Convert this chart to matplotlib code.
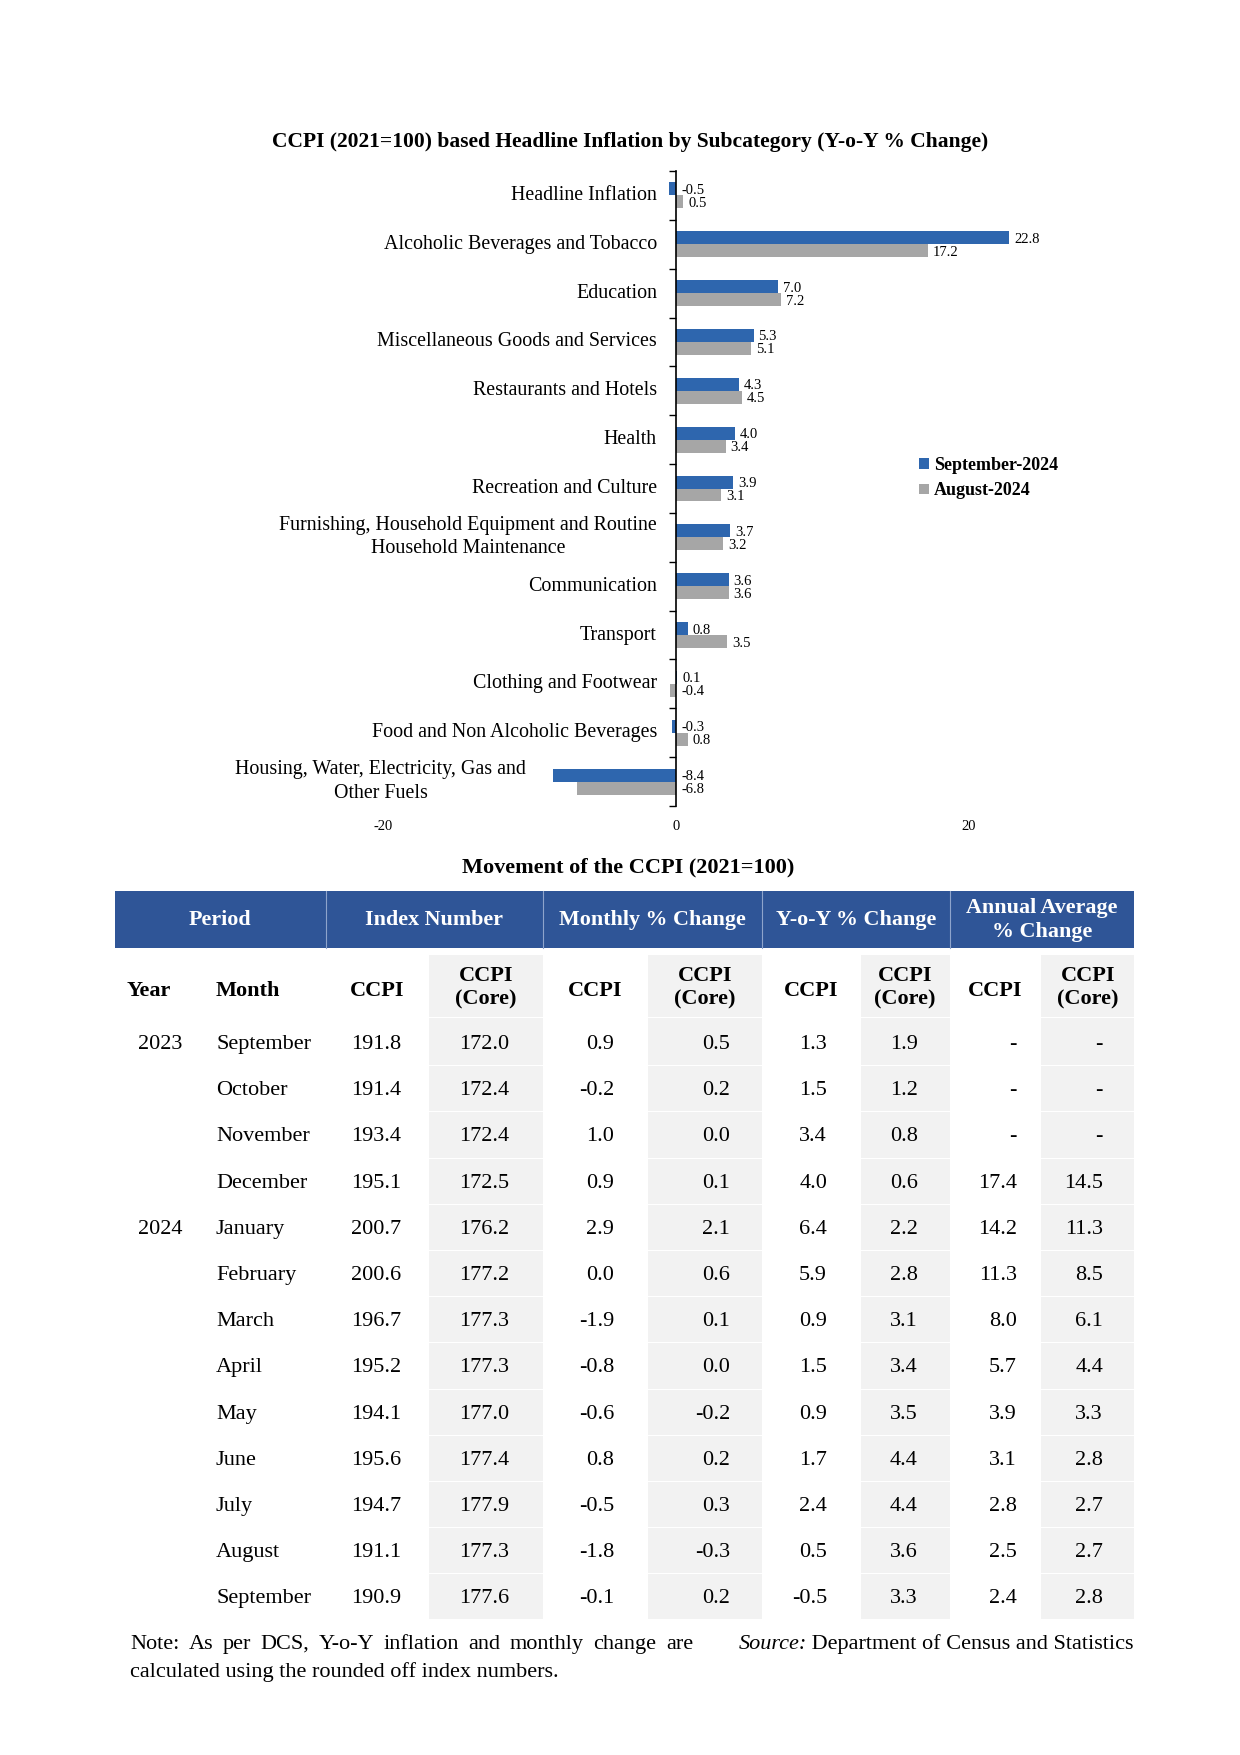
import matplotlib
matplotlib.use("Agg")
import matplotlib.pyplot as plt
import numpy as np
from matplotlib.patches import Rectangle

plt.rcParams['font.family'] = ['Liberation Serif', 'DejaVu Serif']
plt.rcParams['axes.unicode_minus'] = False

# ---- chart data ----
categories = [
    "Headline Inflation",
    "Alcoholic Beverages and Tobacco",
    "Education",
    "Miscellaneous Goods and Services",
    "Restaurants and Hotels",
    "Health",
    "Recreation and Culture",
    "Furnishing, Household Equipment and Routine\nHousehold Maintenance",
    "Communication",
    "Transport",
    "Clothing and Footwear",
    "Food and Non Alcoholic Beverages",
    "Housing, Water, Electricity, Gas and\nOther Fuels",
]
sep_2024 = [-0.5, 22.8, 7.0, 5.3, 4.3, 4.0, 3.9, 3.7, 3.6, 0.8, 0.1, -0.3, -8.4]
aug_2024 = [0.5, 17.2, 7.2, 5.1, 4.5, 3.4, 3.1, 3.2, 3.6, 3.5, -0.4, 0.8, -6.8]
series_names = ["September-2024", "August-2024"]

# ---- table data ----
years = ["2023", "", "", "", "2024", "", "", "", "", "", "", "", ""]
months = ["September", "October", "November", "December", "January", "February",
          "March", "April", "May", "June", "July", "August", "September"]
ccpi_index = ["191.8", "191.4", "193.4", "195.1", "200.7", "200.6", "196.7",
              "195.2", "194.1", "195.6", "194.7", "191.1", "190.9"]
core_index = ["172.0", "172.4", "172.4", "172.5", "176.2", "177.2", "177.3",
              "177.3", "177.0", "177.4", "177.9", "177.3", "177.6"]
ccpi_mom = ["0.9", "-0.2", "1.0", "0.9", "2.9", "0.0", "-1.9", "-0.8", "-0.6",
            "0.8", "-0.5", "-1.8", "-0.1"]
core_mom = ["0.5", "0.2", "0.0", "0.1", "2.1", "0.6", "0.1", "0.0", "-0.2",
            "0.2", "0.3", "-0.3", "0.2"]
ccpi_yoy = ["1.3", "1.5", "3.4", "4.0", "6.4", "5.9", "0.9", "1.5", "0.9",
            "1.7", "2.4", "0.5", "-0.5"]
core_yoy = ["1.9", "1.2", "0.8", "0.6", "2.2", "2.8", "3.1", "3.4", "3.5",
            "4.4", "4.4", "3.6", "3.3"]
ccpi_avg = ["-", "-", "-", "17.4", "14.2", "11.3", "8.0", "5.7", "3.9",
            "3.1", "2.8", "2.5", "2.4"]
core_avg = ["-", "-", "-", "14.5", "11.3", "8.5", "6.1", "4.4", "3.3",
            "2.8", "2.7", "2.7", "2.8"]
group_headers = ["Period", "Index Number", "Monthly % Change", "Y-o-Y % Change",
                 "Annual Average\n% Change"]
note_lines = ["Note: As per DCS, Y-o-Y inflation and monthly change are",
              "calculated using the rounded off index numbers."]

BLUE = "#2E66AE"
GREY = "#A6A6A6"
HEAD = "#2F5597"
LIGHT = "#F2F2F2"

W, H = 1240, 1755
fig = plt.figure(figsize=(W / 100, H / 100), dpi=100)
renderer = fig.canvas.get_renderer()

# ---------------- bar chart ----------------
x_lo, x_hi = -20, 30
px_per_unit = (969 - 384) / 40.0
ax_left = 676 + x_lo * px_per_unit
ax_right = 676 + x_hi * px_per_unit
ax_top, ax_bot = 171, 806
ax = fig.add_axes([ax_left / W, 1 - ax_bot / H, (ax_right - ax_left) / W, (ax_bot - ax_top) / H])

n = len(categories)
y = np.arange(n)
bh = 0.265
ax.barh(y - bh / 2, sep_2024, height=bh, color=BLUE, label=series_names[0])
ax.barh(y + bh / 2, aug_2024, height=bh, color=GREY, label=series_names[1])

for i in range(n):
    for v, off in ((sep_2024[i], -bh / 2), (aug_2024[i], bh / 2)):
        ax.annotate(f"{v:.1f}", xy=(max(v, 0), y[i] + off), xytext=(5, 0),
                    textcoords="offset pixels", ha="left", va="center_baseline", fontsize=10.5)

ax.set_xlim(x_lo, x_hi)
ax.set_ylim(n - 0.5, -0.5)
ax.set_xticks([-20, 0, 20])
ax.tick_params(axis="x", length=0, labelsize=10.5, pad=10)
ax.set_yticks([])
ax.set_yticks(np.arange(-0.5, n, 1), minor=True)
ax.tick_params(axis="y", which="minor", length=5, width=1, direction="out")
for s in ("top", "right", "bottom"):
    ax.spines[s].set_visible(False)
ax.spines["left"].set_position(("data", 0))
ax.spines["left"].set_linewidth(1.2)

for i, c in enumerate(categories):
    dx = -150 if c.startswith("Housing") else -19
    ax.annotate(c, xy=(0, y[i]), xytext=(dx, 0), textcoords="offset pixels",
                ha="right", va="center", multialignment="center", fontsize=14.4,
                linespacing=1.3)

ax.legend(loc="upper left", bbox_to_anchor=(903 / W, 1 - 441 / H), bbox_transform=fig.transFigure,
          frameon=False, handlelength=0.55, handleheight=0.55, handletextpad=0.25,
          labelspacing=0.45, prop={"weight": "bold", "size": 13})

fig.text(630 / W, 1 - 142 / H,
         "CCPI (2021=100) based Headline Inflation by Subcategory (Y-o-Y % Change)",
         ha="center", va="center", fontsize=15.5, fontweight="bold")

# ---------------- table ----------------
tab = fig.add_axes([0, 0, 1, 1])
tab.set_xlim(0, W)
tab.set_ylim(H, 0)
tab.axis("off")

tab.text(628, 867, "Movement of the CCPI (2021=100)", ha="center", va="center",
         fontsize=16, fontweight="bold")

# header band
tab.add_patch(Rectangle((115, 891), 1134 - 115, 57, color=HEAD, lw=0))
for xv in (326, 543, 762, 950):
    tab.plot([xv, xv], [891, 948], color="#8EA4CC", lw=0.8)
head_x = [220, 434, 652, 856, 1042]
for hx, ht in zip(head_x, group_headers):
    tab.text(hx, 920, ht, ha="center", va="center", color="white", fontsize=15.8,
             fontweight="bold", linespacing=1.25)

# grey column backgrounds
row_y = 1042 + 46.2 * np.arange(len(months))
top_g, bot_g = 955, 1619
for x0, x1 in ((429, 543), (648, 762), (861, 950), (1041, 1134)):
    tab.add_patch(Rectangle((x0, top_g), x1 - x0, bot_g - top_g, color=LIGHT, lw=0))
    for yb in np.r_[1017, row_y[:-1] + 23.1]:
        tab.plot([x0, x1], [yb, yb], color="white", lw=0.8)

# sub header
sub_y = 988
tab.text(149, sub_y, "Year", ha="center", va="center_baseline", fontsize=16, fontweight="bold")
tab.text(216, sub_y, "Month", ha="left", va="center_baseline", fontsize=16, fontweight="bold")
sub_x = [377, 486, 595, 705, 811, 905, 995, 1088]
for k, sx in enumerate(sub_x):
    lab = "CCPI" if k % 2 == 0 else "CCPI\n(Core)"
    tab.text(sx, sub_y, lab, ha="center", va="center" if "\n" in lab else "center_baseline",
             fontsize=16, fontweight="bold", linespacing=1.25)

# body
cols = [ccpi_index, core_index, ccpi_mom, core_mom, ccpi_yoy, core_yoy, ccpi_avg, core_avg]
right_x = [401, 509, 614, 730, 827, 918, 1017, 1103]
for r in range(len(months)):
    yy = row_y[r]
    if years[r]:
        tab.text(160, yy, years[r], ha="center", va="center_baseline", fontsize=16)
    tab.text(216, yy, months[r], ha="left", va="center_baseline", fontsize=16)
    for col, rx in zip(cols, right_x):
        tab.text(rx, yy, col[r], ha="right", va="center_baseline", fontsize=16)

# notes: first line justified between x=130 and x=693
words = note_lines[0].split()
widths = []
for w_ in words:
    t = tab.text(0, 0, w_, fontsize=16)
    widths.append(t.get_window_extent(renderer=renderer).width)
    t.remove()
gap = (693 - 130 - sum(widths)) / (len(words) - 1)
xc = 130
for w_, wd in zip(words, widths):
    tab.text(xc, 1642, w_, ha="left", va="center_baseline", fontsize=16)
    xc += wd + gap
tab.text(130, 1670, note_lines[1], ha="left", va="center_baseline", fontsize=16)

src = tab.text(1134, 1642, " Department of Census and Statistics", ha="right",
               va="center_baseline", fontsize=16)
bb = src.get_window_extent(renderer=renderer)
tab.text(bb.x0, 1642, "Source:", ha="right", va="center_baseline", fontsize=16, style="italic")

fig.savefig("out.png", dpi=100)
